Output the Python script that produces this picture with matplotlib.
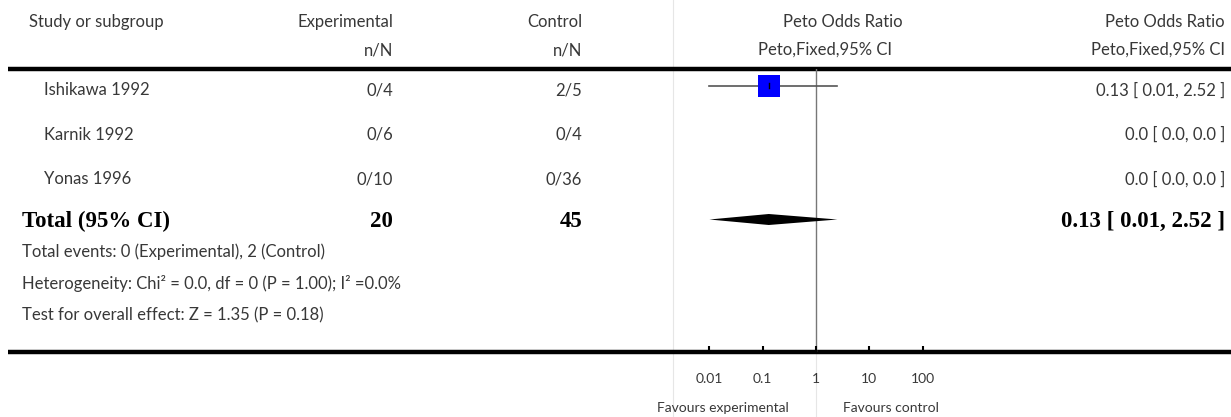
import numpy as np
import matplotlib.pyplot as plt
from matplotlib.patches import Rectangle, Polygon

# --- data -------------------------------------------------------------
studies = ["Ishikawa 1992", "Karnik 1992", "Yonas 1996"]
exp_nN = ["0/4", "0/6", "0/10"]
ctl_nN = ["2/5", "0/4", "0/36"]
or_est = [0.13, np.nan, np.nan]
ci_low = [0.01, np.nan, np.nan]
ci_high = [2.52, np.nan, np.nan]
or_text = ["0.13 [ 0.01, 2.52 ]", "0.0 [ 0.0, 0.0 ]", "0.0 [ 0.0, 0.0 ]"]

total_exp = "20"
total_ctl = "45"
total_or = 0.13
total_low = 0.01
total_high = 2.52
total_text = "0.13 [ 0.01, 2.52 ]"

footnotes = [
    "Total events: 0 (Experimental), 2 (Control)",
    "Heterogeneity: Chi² = 0.0, df = 0 (P = 1.00); I² =0.0%",
    "Test for overall effect: Z = 1.35 (P = 0.18)",
]
tick_vals = [0.01, 0.1, 1, 10, 100]
tick_labels = ["0.01", "0.1", "1", "10", "100"]

# --- layout -----------------------------------------------------------
W, H = 1231, 417
SANS = "Lato"
SERIF = "Liberation Serif"
GREY_TXT = "#383838"
FS = 12
FS_SMALL = 10
FS_BOLD = 16.5
sans = dict(family=SANS, color=GREY_TXT)
bold = dict(family=SERIF, weight="bold", color="black", fontsize=FS_BOLD)

fig = plt.figure(figsize=(W / 100, H / 100), dpi=100)

# overlay axes in pixel units for the table part
tab = fig.add_axes([0, 0, 1, 1])
tab.set_xlim(0, W)
tab.set_ylim(H, 0)
tab.axis("off")

top_line, bot_line = 69, 352
row0, row_step = 86, 44.5

# forest axes: log scale, 1 at x=816, one decade = 53.3 px
x_one, dec = 816, 53.3
ax_left = x_one - 3 * dec
ax_w = 6 * dec
fa = fig.add_axes([ax_left / W, (H - bot_line) / H, ax_w / W, (bot_line - top_line) / H])
fa.set_facecolor("none")
fa.set_xscale("log")
fa.set_xlim(1e-3, 1e3)
n_units = (bot_line - top_line) / row_step
top_u = -(row0 - top_line) / row_step
fa.set_ylim(top_u + n_units, top_u)
for s in fa.spines.values():
    s.set_visible(False)
fa.yaxis.set_visible(False)
fa.set_xticks(tick_vals)
fa.set_xticklabels(tick_labels)
fa.xaxis.set_minor_locator(plt.NullLocator())
fa.tick_params(axis="x", direction="in", length=4.3, width=1.5, color="black",
               pad=15, labelsize=FS_SMALL, labelcolor=GREY_TXT)
for lab in fa.get_xticklabels():
    lab.set_family(SANS)

# light grey separators
tab.plot([673, 673], [0, H], color="#e6e6e6", lw=0.8, zorder=0)
tab.plot([x_one, x_one], [bot_line, H], color="#e6e6e6", lw=0.8, zorder=0)

# thick rules
tab.plot([8, W], [top_line, top_line], color="black", lw=3.2, solid_capstyle="butt")
tab.plot([8, W], [bot_line, bot_line], color="black", lw=3.2, solid_capstyle="butt")

# line of no effect
fa.axvline(1, color="#777777", lw=1, zorder=1)

# headers
hdr1, hdr2 = 22, 50
tab.text(29, hdr1, "Study or subgroup", ha="left", va="center", fontsize=FS, **sans)
tab.text(393, hdr1, "Experimental", ha="right", va="center", fontsize=FS, **sans)
tab.text(582, hdr1, "Control", ha="right", va="center", fontsize=FS, **sans)
tab.text(393, hdr2, "n/N", ha="right", va="center", fontsize=FS, **sans)
tab.text(582, hdr2, "n/N", ha="right", va="center", fontsize=FS, **sans)
tab.text(843, hdr1, "Peto Odds Ratio", ha="center", va="center", fontsize=FS, **sans)
tab.text(825, hdr2, "Peto,Fixed,95% CI", ha="center", va="center", fontsize=FS, **sans)
tab.text(1225, hdr1, "Peto Odds Ratio", ha="right", va="center", fontsize=FS, **sans)
tab.text(1225, hdr2, "Peto,Fixed,95% CI", ha="right", va="center", fontsize=FS, **sans)

# study rows
for i, name in enumerate(studies):
    y = row0 + i * row_step + 4
    tab.text(44, y, name, ha="left", va="center", fontsize=FS, **sans)
    tab.text(393, y, exp_nN[i], ha="right", va="center", fontsize=FS, **sans)
    tab.text(582, y, ctl_nN[i], ha="right", va="center", fontsize=FS, **sans)
    tab.text(1225, y, or_text[i], ha="right", va="center", fontsize=FS, **sans)
    if not np.isnan(or_est[i]):
        fa.plot([ci_low[i], ci_high[i]], [i, i], color="#555555", lw=1.2, zorder=2)
        # square of ~22 px
        half = 11 / dec
        hh = 11 / row_step
        fa.add_patch(Rectangle((or_est[i] / 10 ** half, i - hh),
                               or_est[i] * 10 ** half - or_est[i] / 10 ** half, 2 * hh,
                               facecolor="#0000ff", edgecolor="none", zorder=3))
        fa.plot([or_est[i], or_est[i]], [i - 2.5 / row_step, i + 2.5 / row_step],
                color="black", lw=1, zorder=4)

# total row
ti = len(studies)
yt = row0 + ti * row_step + 2
tab.text(22, yt, "Total (95% CI)", ha="left", va="center", **bold)
tab.text(393, yt, total_exp, ha="right", va="center", **bold)
tab.text(582, yt, total_ctl, ha="right", va="center", **bold)
tab.text(1225, yt, total_text, ha="right", va="center", **bold)
dh = 5.5 / row_step
fa.add_patch(Polygon([(total_low, ti), (total_or, ti - dh), (total_high, ti), (total_or, ti + dh)],
                     closed=True, facecolor="black", edgecolor="none", zorder=3))

# footnotes
for k, txt in enumerate(footnotes):
    tab.text(22, 252 + k * 31.5, txt, ha="left", va="center", fontsize=FS, **sans)

# favours labels
tab.text(789, 408, "Favours experimental", ha="right", va="center", fontsize=FS_SMALL, **sans)
tab.text(843, 408, "Favours control", ha="left", va="center", fontsize=FS_SMALL, **sans)

fig.savefig("out.png", dpi=100)
